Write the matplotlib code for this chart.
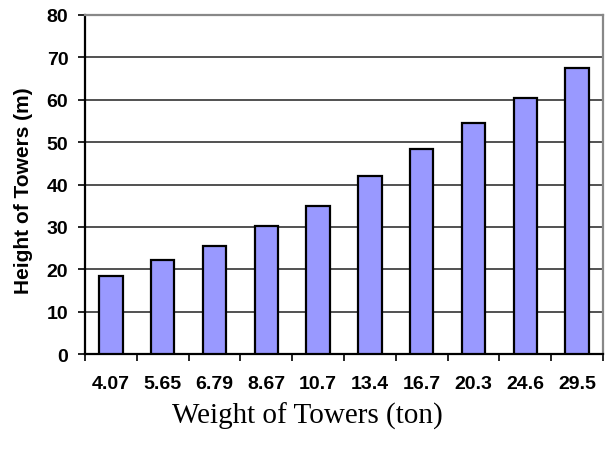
import matplotlib
matplotlib.use("Agg")
import matplotlib.pyplot as plt
import numpy as np

weights = ["4.07", "5.65", "6.79", "8.67", "10.7", "13.4", "16.7", "20.3", "24.6", "29.5"]
heights = [18.3, 22.1, 25.5, 30.2, 34.9, 42.1, 48.4, 54.5, 60.3, 67.6]
y_ticks = [0, 10, 20, 30, 40, 50, 60, 70, 80]

W, H = 606, 452
fig = plt.figure(figsize=(W / 100, H / 100), dpi=100)
ax = fig.add_axes([85 / W, 1 - 355 / H, (603 - 85) / W, (355 - 16) / H])

x = np.arange(len(weights))
ax.bar(x, heights, width=0.45, color="#9999ff", edgecolor="black", linewidth=1.6, zorder=3)

ax.set_xlim(-0.5, len(weights) - 0.5)
ax.set_ylim(0, 80)
ax.set_yticks(y_ticks)
ax.set_yticklabels([str(v) for v in y_ticks], fontname="Liberation Sans", fontweight="bold", fontsize=14)
ax.yaxis.grid(True, color="#333333", linewidth=1.2, zorder=0)

ax.set_xticks(x)
ax.set_xticklabels(weights, fontname="Liberation Sans", fontweight="bold", fontsize=14)
ax.tick_params(axis="x", length=0, pad=15)
ax.set_xticks(np.arange(len(weights) + 1) - 0.5, minor=True)
ax.tick_params(axis="x", which="minor", length=5, width=1.2, direction="out")
ax.tick_params(axis="y", length=5, width=1.2, direction="out", pad=7)

for side in ["left", "bottom"]:
    ax.spines[side].set_color("black")
    ax.spines[side].set_linewidth(1.6)
for side in ["top", "right"]:
    ax.spines[side].set_color("#888888")
    ax.spines[side].set_linewidth(1.6)

fig.text(24 / W, 1 - 191 / H, "Height of Towers (m)", rotation=90, ha="center", va="center",
         fontname="Liberation Sans", fontweight="bold", fontsize=15)
fig.text(307 / W, 1 - 416 / H, "Weight of Towers (ton)", ha="center", va="center",
         fontname="Liberation Serif", fontsize=21)

fig.savefig("out.png", dpi=100)
